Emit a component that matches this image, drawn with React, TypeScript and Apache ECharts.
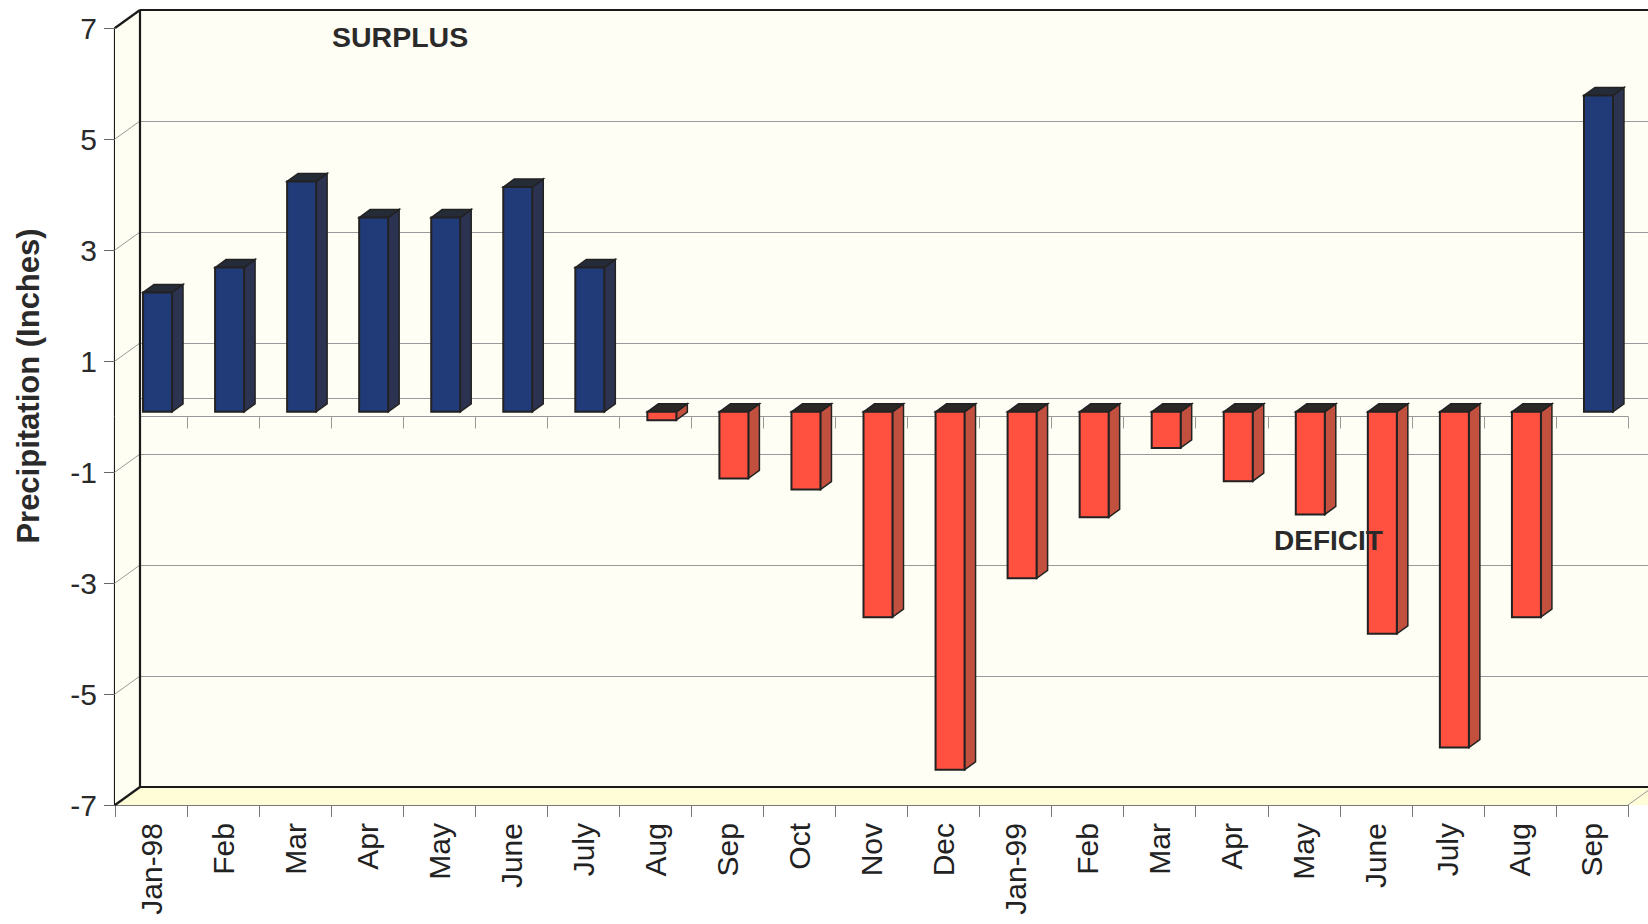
import React, { useEffect, useRef } from "react";
import * as echarts from "echarts";

const categories = [
  "Jan-98", "Feb", "Mar", "Apr", "May", "June", "July", "Aug", "Sep", "Oct", "Nov", "Dec",
  "Jan-99", "Feb", "Mar", "Apr", "May", "June", "July", "Aug", "Sep",
];
const precipitation = [
  2.15, 2.6, 4.15, 3.5, 3.5, 4.05, 2.6, -0.15, -1.2, -1.4, -3.7, -6.45,
  -3.0, -1.9, -0.65, -1.25, -1.85, -4.0, -6.05, -3.7, 5.7,
];
const yTicks = [-7, -5, -3, -1, 1, 3, 5, 7];
const Y_MIN = -7;
const Y_MAX = 7;
const Y_STEP = 2;

// layout
const FL = 115; // front left
const FT = 28; // front top
const PW = 1513;
const PH = 777;
const DX = 25;
const DY = 18;
const FONT = "'Liberation Sans', Arial, sans-serif";

export default function App() {
  const ref = useRef<HTMLDivElement>(null);
  useEffect(() => {
    if (!ref.current) return;
    const chart = echarts.init(ref.current, null, { renderer: "svg" });
    const BL = FL + DX;
    const BT = FT - DY;
    const FB = FT + PH;
    const BB = BT + PH;
    const RIGHT = 1700;

    const edge = (x1: number, y1: number, x2: number, y2: number, w = 2.2) => ({
      type: "line",
      z: 50,
      shape: { x1, y1, x2, y2 },
      style: { stroke: "#1a1a1a", lineWidth: w },
      silent: true,
    });

    const option: any = {
      animation: false,
      backgroundColor: "#ffffff",
      grid: [
        { left: FL, top: FT, width: PW, height: PH, containLabel: false },
        {
          left: BL, top: BT, width: PW, height: PH, show: true,
          backgroundColor: "#fffef4", borderWidth: 0, containLabel: false,
        },
      ],
      xAxis: [
        {
          type: "category", gridIndex: 0, data: categories, position: "bottom",
          boundaryGap: true,
          axisLine: { onZero: false, lineStyle: { color: "#777", width: 1 } },
          axisTick: { show: true, length: 12, lineStyle: { color: "#777" } },
          axisLabel: {
            rotate: 90, fontSize: 30, color: "#222", margin: 18, fontFamily: FONT,
            interval: 0,
          },
        },
        {
          type: "category", gridIndex: 1, data: categories, position: "bottom",
          axisLine: { onZero: true, lineStyle: { color: "#9a9a9a", width: 1 } },
          axisTick: { show: false },
          axisLabel: { show: false },
        },
        {
          type: "category", gridIndex: 0, data: categories, position: "bottom",
          boundaryGap: true,
          axisLine: { onZero: true, lineStyle: { color: "#999", width: 1 } },
          axisTick: { show: true, length: 12, interval: 0, lineStyle: { color: "#999" } },
          axisLabel: { show: false },
        },
      ],
      yAxis: [
        {
          type: "value", gridIndex: 0, min: Y_MIN, max: Y_MAX, interval: Y_STEP,
          axisLine: { show: true, lineStyle: { color: "#1a1a1a", width: 2.2 } },
          axisTick: { show: true, length: 11, lineStyle: { color: "#666" } },
          axisLabel: { fontSize: 30, color: "#2a2a2a", margin: 18, fontFamily: FONT },
          splitLine: { show: false },
        },
        {
          type: "value", gridIndex: 1, min: Y_MIN, max: Y_MAX, interval: Y_STEP,
          axisLine: { show: false },
          axisTick: { show: false },
          axisLabel: { show: false },
          splitLine: { show: true, lineStyle: { color: "#9a9a9a", width: 1 } },
        },
      ],
      graphic: [
        {
          type: "polygon", z: 1, silent: true,
          shape: { points: [[FL, FT], [BL, BT], [BL, BB], [FL, FB]] },
          style: { fill: "#fffef2" },
        },
        {
          type: "polygon", z: 1, silent: true,
          shape: { points: [[FL, FB], [BL, BB], [RIGHT, BB], [RIGHT - DX, FB]] },
          style: { fill: "#fffcd8" },
        },
        {
          type: "line", z: 1, silent: true,
          shape: { x1: FL + PW, y1: FB, x2: FL + PW + DX, y2: BB },
          style: { stroke: "#999", lineWidth: 1 },
        },
        edge(BL, BT, RIGHT, BT),
        edge(BL, BT, BL, BB),
        edge(BL, BB, RIGHT, BB),
        edge(FL, FT, BL, BT),
        edge(FL, FB, BL, BB),
        {
          type: "text", z: 60, silent: true,
          x: 28, y: 386, rotation: Math.PI / 2,
          style: {
            text: "Precipitation (Inches)", fill: "#2a2a2a", fontSize: 31,
            fontWeight: "bold", fontFamily: FONT, align: "center", verticalAlign: "middle",
          },
        },
        {
          type: "text", z: 60, silent: true, x: 332, y: 37,
          style: {
            text: "SURPLUS", fill: "#2a2a2a", fontSize: 28.5, fontWeight: "bold",
            fontFamily: FONT, align: "left", verticalAlign: "middle",
          },
        },
        {
          type: "text", z: 60, silent: true, x: 1274, y: 540,
          style: {
            text: "DEFICIT", fill: "#2a2a2a", fontSize: 28, fontWeight: "bold",
            fontFamily: FONT, align: "left", verticalAlign: "middle",
          },
        },
      ],
      series: [
        {
          type: "custom",
          name: "wallLines",
          xAxisIndex: 0,
          yAxisIndex: 0,
          z: 3,
          silent: true,
          data: yTicks.map((v) => [0, v]),
          renderItem: (params: any, api: any) => {
            const y = api.coord([0, api.value(1)])[1];
            const x = params.coordSys.x;
            return {
              type: "line",
              shape: { x1: x, y1: y, x2: x + DX, y2: y - DY },
              style: { stroke: "#999", lineWidth: 1 },
            };
          },
        },
        {
          type: "custom",
          name: "Precipitation",
          xAxisIndex: 0,
          yAxisIndex: 0,
          z: 10,
          data: precipitation.map((v, i) => [i, v]),
          renderItem: (params: any, api: any) => {
            const i = api.value(0);
            const v = api.value(1);
            const base = api.coord([i, 0]);
            const tip = api.coord([i, v]);
            const ox = 6.5;
            const oy = -4.7;
            const w = 29;
            const bx = 11;
            const by = 8;
            const cx = base[0] + ox;
            const y0 = base[1] + oy;
            const y1 = tip[1] + oy;
            const yt = Math.min(y0, y1);
            const yb = Math.max(y0, y1);
            const xl = cx - w / 2;
            const xr = cx + w / 2;
            const pos = v >= 0;
            const front = pos ? "#213a78" : "#ff5040";
            const side = pos ? "#2b3350" : "#c2503f";
            const top = pos ? "#262b38" : "#2b2826";
            const stroke = "#222";
            return {
              type: "group",
              children: [
                {
                  type: "polygon",
                  shape: { points: [[xr, yt], [xr + bx, yt - by], [xr + bx, yb - by], [xr, yb]] },
                  style: { fill: side, stroke, lineWidth: 1.5 },
                },
                {
                  type: "polygon",
                  shape: { points: [[xl, yt], [xl + bx, yt - by], [xr + bx, yt - by], [xr, yt]] },
                  style: { fill: top, stroke, lineWidth: 1.5 },
                },
                {
                  type: "rect",
                  shape: { x: xl, y: yt, width: w, height: Math.max(yb - yt, 1) },
                  style: { fill: front, stroke, lineWidth: 2 },
                },
              ],
            };
          },
        },
      ],
    };
    chart.setOption(option);
    return () => chart.dispose();
  }, []);
  return (
    <div
      ref={ref}
      style={{ position: "absolute", left: 0, top: 0, width: 1648, height: 924, background: "#fff" }}
    />
  );
}
